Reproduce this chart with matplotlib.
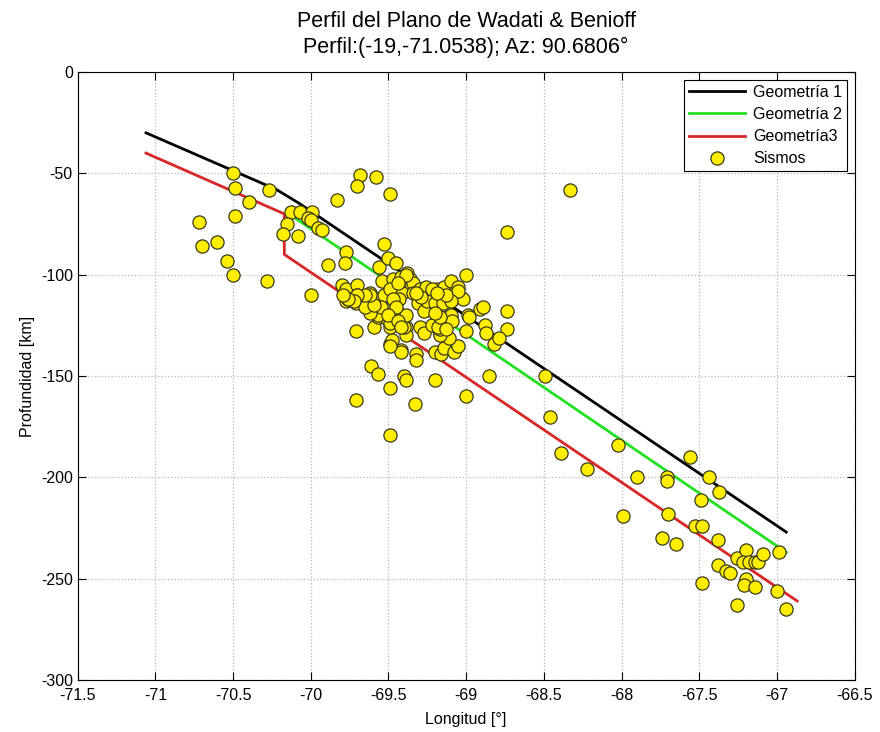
import numpy as np
import matplotlib.pyplot as plt

plt.rcParams['font.family'] = ['Liberation Sans', 'DejaVu Sans']
plt.rcParams['axes.unicode_minus'] = False

# geometrias del plano
geo1_lon = [-71.06, -70.22, -70.07, -66.94]
geo1_dep = [-30, -58, -65, -227]
geo2_lon = [-70.14, -66.94]
geo2_dep = [-70, -237]
geo3_lon = [-71.06, -70.17, -70.17, -66.87]
geo3_dep = [-40, -70, -90, -261]

# sismos (longitud, profundidad)
sis_lon = [
    -70.50, -70.49, -70.27, -70.40, -70.49, -70.72, -69.83, -70.13, -70.07, -69.99,
    -70.02, -70.00, -70.15, -70.18, -70.08, -69.95, -69.93, -70.60, -70.70, -70.54,
    -70.50, -70.28, -70.00, -69.89, -69.77, -69.78, -69.80, -69.77, -69.77,
    -69.68, -69.58, -69.70, -69.49, -68.33, -68.74, -69.53,
    -68.74, -68.74, -68.49, -68.46, -68.39, -68.22, -68.02, -67.90, -67.71, -67.71,
    -67.56, -67.44, -67.37, -67.49, -67.99, -67.70, -67.74, -67.65, -67.53, -67.48,
    -67.38, -67.38, -67.33, -67.30, -67.26, -67.20, -67.22, -67.18, -67.14, -67.12,
    -67.09, -66.99, -67.48, -67.20, -67.21, -67.14, -67.00, -67.26, -66.94,
    -69.71, -69.61, -69.57, -69.49, -69.71, -69.49, -69.33, -69.40, -69.39, -69.20,
    -69.00, -68.85, -69.42, -69.42, -69.49, -69.48, -69.49, -69.32, -69.32, -69.20,
    -69.16, -69.14, -69.08, -69.05, -69.11, -69.30, -69.27, -69.19, -69.17, -69.17,
    -69.00, -68.88, -68.87, -68.82, -68.79, -69.59, -69.49, -69.39, -69.39,
    -69.56, -69.50, -69.45, -69.00, -69.70, -69.54, -69.76, -69.71, -69.70, -69.65,
    -69.62, -69.58, -69.55, -69.53, -69.62, -69.57, -69.52, -69.51, -69.47, -69.45,
    -69.42, -69.40,
    -69.47, -69.42, -69.38, -69.36, -69.40, -69.37, -69.34, -69.43, -69.41, -69.34,
    -69.30, -69.49, -69.39, -69.44,
    -69.43, -69.31, -69.27, -69.25, -69.20, -69.15, -69.19, -69.14, -69.10, -69.08,
    -69.05, -69.02, -69.05, -69.10, -69.13, -69.26, -69.22, -69.19, -69.29, -69.32,
    -69.47,
    -69.19, -69.17, -69.15, -69.13, -69.10, -69.09, -68.99, -68.98, -68.91, -68.89,
    -69.57, -69.62, -69.65, -69.55, -69.59, -69.62, -69.65, -69.70, -69.72, -69.76,
    -69.79, -69.39, -69.45, -69.48, -69.49, -69.50, -69.44, -69.42, -69.22, -69.18,
    -69.13, -69.17, -69.20,
]
sis_dep = [
    -50, -57, -58, -64, -71, -74, -63, -69, -69, -69,
    -72, -73, -75, -80, -81, -77, -78, -84, -86, -93,
    -100, -103, -110, -95, -89, -94, -105, -107, -113,
    -51, -52, -56, -60, -58, -79, -85,
    -118, -127, -150, -170, -188, -196, -184, -200, -200, -202,
    -190, -200, -207, -211, -219, -218, -230, -233, -224, -224,
    -231, -243, -246, -247, -240, -236, -242, -242, -242, -242,
    -238, -237, -252, -250, -253, -254, -256, -263, -265,
    -128, -145, -149, -156, -162, -179, -164, -150, -152, -152,
    -160, -150, -137, -138, -134, -132, -135, -139, -142, -138,
    -139, -136, -138, -135, -131, -126, -129, -126, -129, -130,
    -128, -125, -129, -134, -131, -126, -126, -126, -130,
    -96, -92, -94, -100, -105, -103, -112, -114, -110, -111,
    -109, -112, -113, -110, -118, -121, -117, -122, -122, -117,
    -125, -126,
    -102, -101, -99, -102, -104, -107, -104, -107, -109, -109,
    -107, -107, -100, -104,
    -112, -114, -118, -113, -114, -114, -107, -106, -103, -109,
    -106, -112, -108, -113, -110, -106, -107, -109, -111, -109,
    -112,
    -121, -127, -122, -121, -120, -123, -120, -121, -117, -116,
    -120, -119, -116, -116, -115, -110, -110, -110, -113, -112,
    -110, -120, -116, -122, -124, -120, -123, -126, -125, -126,
    -127, -121, -119,
]

xticks = np.arange(-71.5, -66.4, 0.5)
yticks = np.arange(-300, 1, 50)

fig = plt.figure(figsize=(8.8, 7.32), dpi=100)
ax = fig.add_axes([0.0882, 0.071, 0.883, 0.8306])

ax.plot(geo1_lon, geo1_dep, color='black', lw=2, label='Geometría 1', zorder=2)
ax.plot(geo2_lon, geo2_dep, color='#22e022', lw=2, label='Geometría 2', zorder=2)
ax.plot(geo3_lon, geo3_dep, color='#d92626', lw=2, label='Geometría3', zorder=2)
ax.plot(sis_lon, sis_dep, 'o', ls='none', mfc='#ffee00', mec='#3a3a1a', mew=0.9,
        ms=9.5, label='Sismos', zorder=3)

ax.set_xlim(-71.5, -66.5)
ax.set_ylim(-300, 0)
ax.set_xticks(xticks)
ax.set_yticks(yticks)
ax.set_xticklabels(['%g' % v for v in xticks])
ax.tick_params(direction='in', top=True, right=True, labelsize=11.5, length=6)
ax.tick_params(axis='x', pad=6)
ax.grid(True, color='#b8b8b8', ls=':', lw=0.9)
ax.set_axisbelow(True)

ax.set_xlabel('Longitud [°]', fontsize=11.5, labelpad=6)
ax.set_ylabel('Profundidad [km]', fontsize=11.5)
ax.set_title('Perfil del Plano de Wadati & Benioff\nPerfil:(-19,-71.0538); Az: 90.6806°',
             fontsize=15.5, linespacing=1.3, pad=14)

leg = ax.legend(loc='upper right', fontsize=11.5, fancybox=False, framealpha=1,
                edgecolor='black', borderaxespad=0.5, handlelength=3.5,
                handletextpad=0.5, labelspacing=0.45, borderpad=0.3)
leg.get_frame().set_linewidth(0.8)

plt.savefig('out.png', dpi=100)
